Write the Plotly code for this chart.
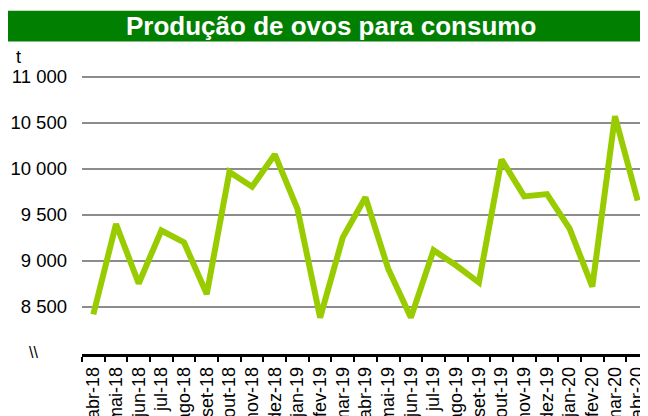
import plotly.graph_objects as go

# ---- data ----
months = ["abr-18", "mai-18", "jun-18", "jul-18", "ago-18", "set-18", "out-18", "nov-18",
          "dez-18", "jan-19", "fev-19", "mar-19", "abr-19", "mai-19", "jun-19", "jul-19",
          "ago-19", "set-19", "out-19", "nov-19", "dez-19", "jan-20", "fev-20", "mar-20",
          "abr-20"]
production_t = [8420, 9400, 8755, 9330, 9200, 8640, 9965, 9805,
                10155, 9565, 8385, 9255, 9690, 8915, 8385, 9115,
                8950, 8765, 10100, 9700, 9725, 9350, 8720, 10570,
                9655]
y_tickvals = [8500, 9000, 9500, 10000, 10500, 11000]
y_ticktext = ["8 500", "9 000", "9 500", "10 000", "10 500", "11 000"]
title_text = "Produção de ovos para consumo"
unit_text = "t"
break_text = "\\\\"

# ---- layout geometry ----
OFF = 8  # page body margin: figure is drawn 8px right/down of the window corner
W, H = 641, 408
Y0, Y1 = 7990, 11060
scale = 276 / 3000.0  # px per ton
top_px = (76.7 - OFF) - (Y1 - 11000) * scale
bot_px = (352.7 - OFF) + (8000 - Y0) * scale
L, R, T, B = 82 - OFF, 0, top_px, H - bot_px
PW, PH = W - L - R, H - T - B


def px(x):
    return (x - OFF - L) / PW


def py(y):
    return (H - B - (y - OFF)) / PH


FONT = "Liberation Sans, Arial, sans-serif"

fig = go.Figure()
fig.add_trace(go.Scatter(
    x=months, y=production_t, mode="lines",
    line=dict(color="#99CC00", width=6),
    cliponaxis=False, hoverinfo="x+y",
))

fig.update_layout(
    template="none",
    width=W, height=H, autosize=False,
    margin=dict(l=L, r=R, t=T, b=B, pad=0),
    paper_bgcolor="white", plot_bgcolor="white",
    showlegend=False,
    font=dict(family=FONT, size=18, color="black"),
    xaxis=dict(
        type="category", showgrid=False, zeroline=False,
        showline=True, linecolor="black", linewidth=2.5,
        ticks="outside", ticklen=5, tickwidth=2, tickcolor="black",
        tickson="boundaries", tickangle=-90,
        tickfont=dict(family=FONT, size=18, color="black"),
        ticklabelstandoff=3,
        automargin=False, range=[-0.5, len(months) - 0.5],
    ),
    yaxis=dict(
        range=[Y0, Y1], tickvals=y_tickvals, ticktext=y_ticktext,
        showgrid=True, gridcolor="#8c8c8c", gridwidth=2,
        zeroline=False, showline=False, ticks="",
        tickfont=dict(family=FONT, size=18.5, color="black"),
        ticklabelstandoff=14,
        automargin=False,
    ),
    shapes=[dict(
        type="rect", xref="paper", yref="paper",
        x0=px(8), x1=px(649), y0=py(41.7), y1=py(11),
        fillcolor="#007F00", line=dict(width=0), layer="above",
    )],
    annotations=[
        dict(text=f"<b>{title_text}</b>", xref="paper", yref="paper",
             x=px(331), y=py(26.5), xanchor="center", yanchor="middle",
             showarrow=False, font=dict(family=FONT, size=26, color="white")),
        dict(text=unit_text, xref="paper", yref="paper",
             x=px(18), y=py(57), xanchor="center", yanchor="middle",
             showarrow=False, font=dict(family=FONT, size=18, color="black")),
        dict(text=break_text, xref="paper", yref="paper",
             x=px(33), y=py(352), xanchor="center", yanchor="middle",
             showarrow=False, font=dict(family=FONT, size=16, color="black")),
    ],
)

fig.write_html("out.html")
